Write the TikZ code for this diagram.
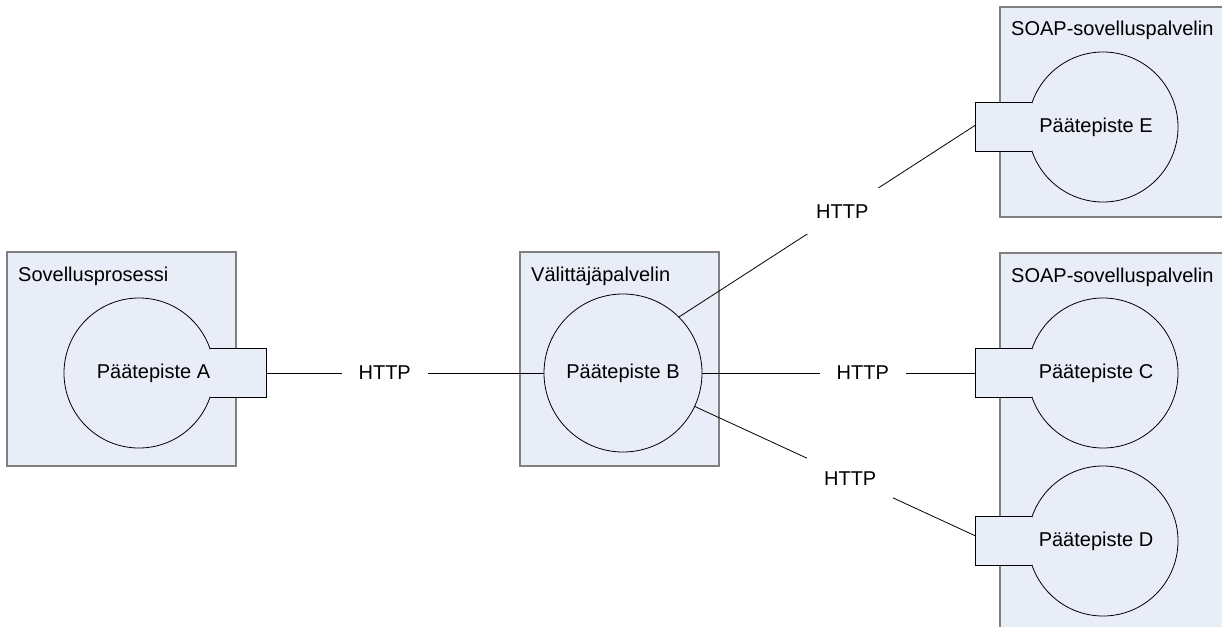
\documentclass[tikz,border=0pt]{standalone}
\usepackage{fontspec}
\setmainfont{Liberation Sans}
\usetikzlibrary{calc}
\begin{document}
\begin{tikzpicture}[x=1pt,y=-1pt,
  every node/.style={font=\fontsize{20}{24}\selectfont},
  hostbox/.style={draw=boxline,fill=boxfill,line width=1.4pt},
  endpoint/.style={circle,draw=black,fill=boxfill,line width=0.8pt,inner sep=0pt},
  tabbox/.style={fill=boxfill,inner sep=0pt,minimum width=56pt,minimum height=49pt},
  tabline/.style={draw=black,line width=0.8pt},
  hostlabel/.style={anchor=base west,inner sep=0pt},
  lbl/.style={fill=white,inner sep=0pt,minimum width=86pt,minimum height=46pt},
  conn/.style={draw=black,line width=0.8pt}]
\definecolor{boxfill}{HTML}{E9EDF7}
\definecolor{boxline}{HTML}{808080}
\useasboundingbox (0,0) rectangle (1222,626);
\clip (0,0) rectangle (1222,626);
\fill[white] (0,0) rectangle (1222,626);

% host boxes
\path[hostbox] (7,252) rectangle (236,466);
\node[hostlabel] (lA) at (18,281) {Sovellusprosessi};
\path[hostbox] (520,252) rectangle (719,466);
\node[hostlabel] (lB) at (531,281) {Välittäjäpalvelin};
\path[hostbox] (1000,7) rectangle (1240,217);
\node[hostlabel] (lE) at (1011,36) {SOAP-sovelluspalvelin};
\path[hostbox] (1000,253) rectangle (1240,640);
\node[hostlabel] (lC) at (1011,282) {SOAP-sovelluspalvelin};

% endpoint A
\node[endpoint,minimum size=150pt] (cA) at (139,373) {};
\node[tabbox,anchor=west] (tabA) at (209.9,373) {};
\draw[tabline] (tabA.north west) -- (tabA.north east) -- (tabA.south east) -- (tabA.south west);
\node (tA) at ($(cA)+(14.5,0)$) {Päätepiste A};

% endpoint B
\node[endpoint,minimum size=158pt] (cB) at (623,373) {};
\node (tB) at (cB) {Päätepiste B};

% endpoint E
\node[endpoint,minimum size=150pt] (cE) at (1103,127) {};
\node[tabbox,anchor=east] (tabE) at (1032.1,127) {};
\draw[tabline] (tabE.north east) -- (tabE.north west) -- (tabE.south west) -- (tabE.south east);
\node (tE) at ($(cE)+(-7,0)$) {Päätepiste E};

% endpoint C
\node[endpoint,minimum size=150pt] (cC) at (1103,373) {};
\node[tabbox,anchor=east] (tabC) at (1032.1,373) {};
\draw[tabline] (tabC.north east) -- (tabC.north west) -- (tabC.south west) -- (tabC.south east);
\node (tC) at ($(cC)+(-7,0)$) {Päätepiste C};

% endpoint D
\node[endpoint,minimum size=150pt] (cD) at (1103,541) {};
\node[tabbox,anchor=east] (tabD) at (1032.1,541) {};
\draw[tabline] (tabD.north east) -- (tabD.north west) -- (tabD.south west) -- (tabD.south east);
\node (tD) at ($(cD)+(-7,0)$) {Päätepiste D};

% connectors
\coordinate (eE) at ($(tabE.west)+(0,-2)$);
\coordinate (eD) at ($(tabD.west)+(0,-5)$);
\draw[conn] (tabA.east) -- node[lbl,pos=0.427] (h1) {HTTP} (cB.west);
\draw[conn] (cB.45) -- node[lbl,pos=0.55] (h2) {HTTP} (eE);
\draw[conn] (cB.east) -- node[lbl,pos=0.587] (h3) {HTTP} (tabC.west);
\draw[conn] (cB.-25) -- node[lbl,pos=0.553] (h4) {HTTP} (eD);
\end{tikzpicture}
\end{document}
